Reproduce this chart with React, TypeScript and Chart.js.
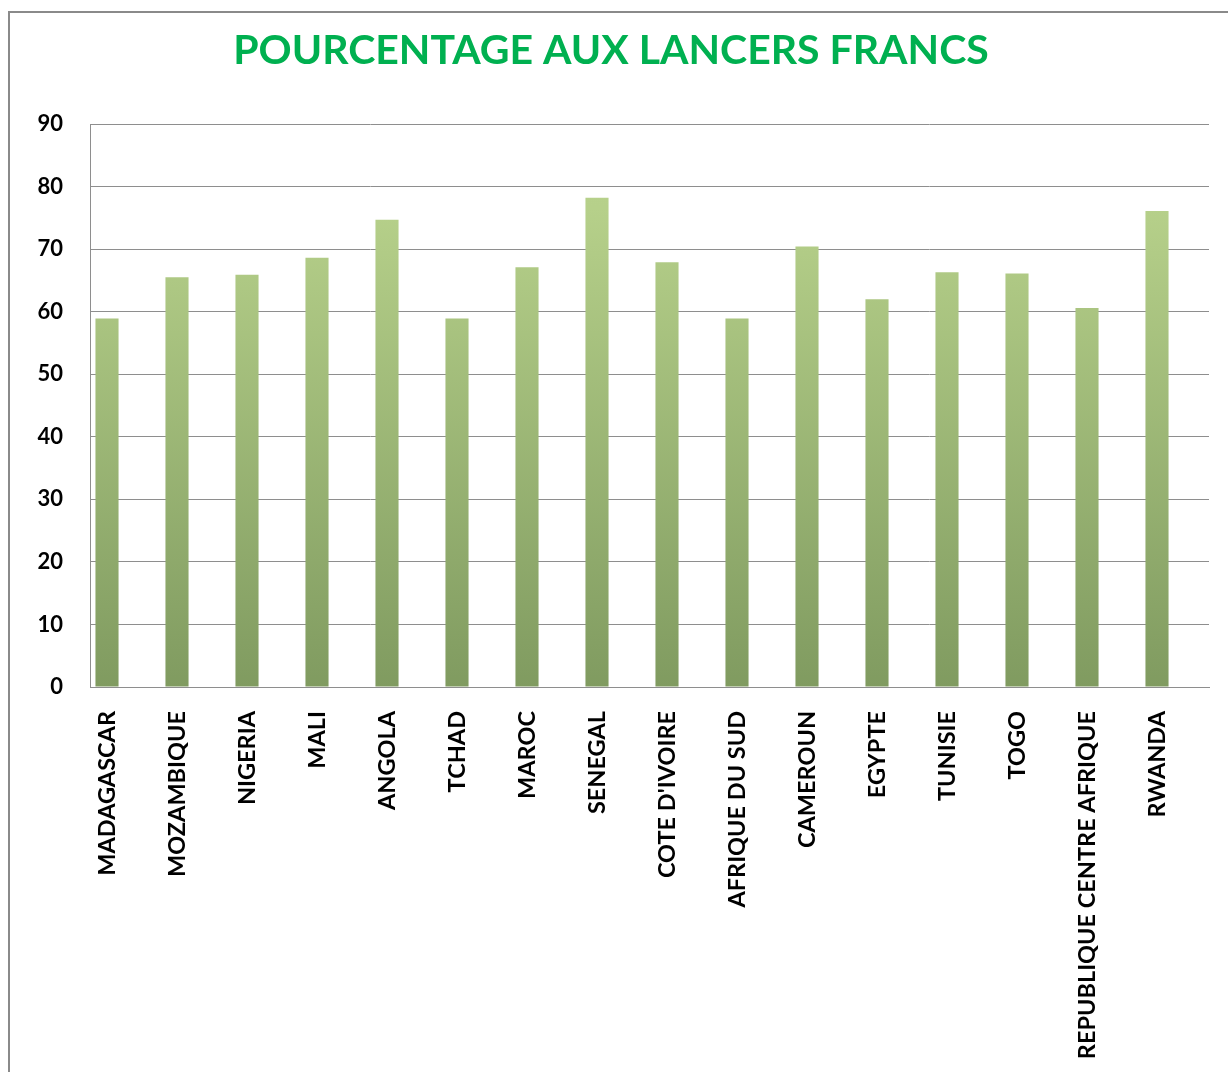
import React, { useEffect, useRef } from "react";
import { Chart, registerables } from "chart.js";

Chart.register(...registerables);

const categories = [
  "MADAGASCAR",
  "MOZAMBIQUE",
  "NIGERIA",
  "MALI",
  "ANGOLA",
  "TCHAD",
  "MAROC",
  "SENEGAL",
  "COTE D'IVOIRE",
  "AFRIQUE DU SUD",
  "CAMEROUN",
  "EGYPTE",
  "TUNISIE",
  "TOGO",
  "REPUBLIQUE CENTRE AFRIQUE",
  "RWANDA",
];

const values = [58.9, 65.5, 65.9, 68.6, 74.7, 58.9, 67.1, 78.2, 67.9, 58.9, 70.4, 62.0, 66.3, 66.1, 60.6, 76.1];

const yTicks = [0, 10, 20, 30, 40, 50, 60, 70, 80, 90];

const title = "POURCENTAGE AUX LANCERS FRANCS";

export default function App() {
  const ref = useRef<HTMLCanvasElement | null>(null);

  useEffect(() => {
    if (!ref.current) return;
    const chart = new Chart(ref.current, {
      type: "bar",
      data: {
        datasets: [
          {
            data: values.map((v, i) => ({ x: i, y: v })),
            backgroundColor: (ctx: any) => {
              const c = ctx.chart;
              const area = c.chartArea;
              if (!area) return "#a8c27c";
              const g = c.ctx.createLinearGradient(0, area.bottom, 0, area.top);
              g.addColorStop(0, "#809b60");
              g.addColorStop(0.85, "#b6d08a");
              g.addColorStop(1, "#b9d38d");
              return g;
            },
            borderWidth: 0,
            categoryPercentage: 1,
            barPercentage: 0.33,
          },
        ],
      },
      options: {
        responsive: false,
        animation: false,
        layout: { padding: { left: 13, right: 19, top: 0, bottom: 0 } },
        plugins: {
          legend: { display: false },
          tooltip: { enabled: false },
          title: {
            display: true,
            text: title,
            color: "#00b050",
            font: { family: "Lato", size: 41, weight: "bold", lineHeight: 1.2 },
            padding: { top: 26, bottom: 48.8 },
          },
        },
        scales: {
          x: {
            type: "linear",
            offset: false,
            min: -17 / 70,
            max: 15 + 52 / 70,
            grid: { display: false, drawTicks: false },
            border: { display: true, color: "#8e8e8e", width: 1 },
            ticks: {
              stepSize: 1,
              includeBounds: false,
              autoSkip: false,
              maxRotation: 90,
              minRotation: 90,
              padding: 24,
              color: "#000",
              font: { family: "Lato", size: 23.5, weight: "bold" },
              callback: (v: any) => categories[v as number] ?? "",
            },
            afterFit: (s: any) => {
              s.height = 385;
            },
          },
          y: {
            min: 0,
            max: 90,
            grid: { color: "#8e8e8e", lineWidth: 1, drawTicks: false },
            border: { display: true, color: "#8e8e8e", width: 1 },
            afterBuildTicks: (s: any) => {
              s.ticks = yTicks.map((v) => ({ value: v }));
            },
            ticks: {
              padding: 27,
              color: "#000",
              font: { family: "Lato", size: 22, weight: "bold" },
            },
            afterFit: (s: any) => {
              s.width = 77;
            },
          },
        },
      },
    } as any);
    return () => chart.destroy();
  }, []);

  return (
    <div style={{ position: "absolute", left: 0, top: 0, width: 1228, height: 1072, overflow: "hidden", background: "#fff" }}>
      <div
        style={{
          position: "absolute",
          left: 8,
          top: 11,
          width: 1300,
          height: 1200,
          border: "2px solid #8a8a8a",
        }}
      />
      <canvas ref={ref} width={1228} height={1072} style={{ position: "absolute", left: 0, top: 0 }} />
    </div>
  );
}
